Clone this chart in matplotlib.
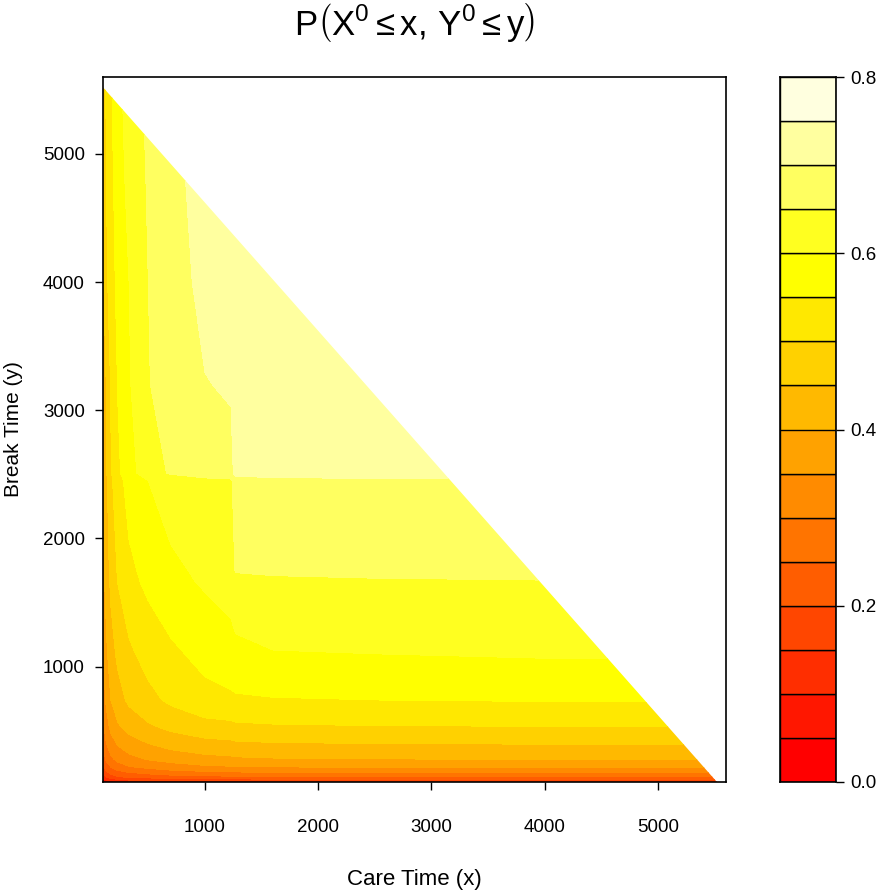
import colorsys
import numpy as np
import matplotlib
matplotlib.use('Agg')
import matplotlib.pyplot as plt
from matplotlib.patches import Polygon

plt.rcParams['font.family'] = ['Liberation Sans', 'DejaVu Sans']
plt.rcParams['mathtext.fontset'] = 'custom'
plt.rcParams['mathtext.rm'] = 'Liberation Sans'
plt.rcParams['mathtext.it'] = 'Liberation Sans'

# grid of care time (x) and break time (y) values
care_time = [100, 130, 170, 230, 330, 500, 700, 1000, 1230, 1270, 1600, 2500, 4000, 5600]
break_time = [100, 115, 140, 175, 215, 280, 400, 540, 740, 1100, 1650, 1750, 2450, 2510,
              3200, 4000, 4800, 5600]
# joint probability, one row per break_time value
prob = [
    [0.03, 0.05, 0.07, 0.085, 0.095, 0.105, 0.11, 0.115, 0.117, 0.118, 0.119, 0.12, 0.12, 0.12],
    [0.08, 0.10, 0.12, 0.135, 0.15, 0.16, 0.168, 0.175, 0.177, 0.178, 0.179, 0.18, 0.181, 0.182],
    [0.13, 0.155, 0.175, 0.195, 0.21, 0.22, 0.23, 0.238, 0.241, 0.242, 0.244, 0.245, 0.247, 0.248],
    [0.16, 0.19, 0.215, 0.235, 0.25, 0.265, 0.28, 0.29, 0.294, 0.296, 0.298, 0.30, 0.302, 0.303],
    [0.19, 0.225, 0.25, 0.275, 0.295, 0.31, 0.325, 0.34, 0.344, 0.346, 0.348, 0.35, 0.352, 0.353],
    [0.22, 0.26, 0.29, 0.315, 0.335, 0.355, 0.37, 0.385, 0.39, 0.393, 0.397, 0.40, 0.402, 0.403],
    [0.26, 0.30, 0.33, 0.355, 0.38, 0.40, 0.42, 0.435, 0.44, 0.443, 0.447, 0.45, 0.452, 0.453],
    [0.29, 0.33, 0.365, 0.395, 0.42, 0.445, 0.465, 0.485, 0.49, 0.493, 0.497, 0.50, 0.502, 0.503],
    [0.32, 0.36, 0.40, 0.43, 0.46, 0.485, 0.51, 0.535, 0.54, 0.543, 0.547, 0.55, 0.553, 0.555],
    [0.35, 0.39, 0.43, 0.46, 0.49, 0.52, 0.54, 0.565, 0.585, 0.59, 0.598, 0.60, 0.605, 0.605],
    [0.38, 0.42, 0.46, 0.50, 0.535, 0.56, 0.585, 0.605, 0.615, 0.625, 0.635, 0.64, 0.645, 0.645],
    [0.385, 0.425, 0.465, 0.505, 0.54, 0.565, 0.59, 0.61, 0.62, 0.655, 0.66, 0.665, 0.665, 0.665],
    [0.40, 0.44, 0.49, 0.53, 0.57, 0.60, 0.625, 0.635, 0.64, 0.68, 0.685, 0.69, 0.69, 0.69],
    [0.405, 0.445, 0.495, 0.54, 0.58, 0.63, 0.655, 0.675, 0.685, 0.715, 0.72, 0.725, 0.725, 0.725],
    [0.42, 0.452, 0.505, 0.552, 0.595, 0.648, 0.67, 0.698, 0.705, 0.72, 0.725, 0.73, 0.735, 0.735],
    [0.44, 0.49, 0.525, 0.565, 0.60, 0.65, 0.675, 0.715, 0.72, 0.725, 0.73, 0.74, 0.745, 0.745],
    [0.45, 0.50, 0.535, 0.575, 0.615, 0.655, 0.685, 0.72, 0.725, 0.73, 0.735, 0.745, 0.75, 0.75],
    [0.46, 0.51, 0.545, 0.585, 0.625, 0.66, 0.69, 0.725, 0.73, 0.735, 0.74, 0.75, 0.75, 0.75],
]
# observed region: care + break time never above this
total_max = 5620
levels = np.arange(0, 0.8001, 0.05)
cbar_ticks = [0.0, 0.2, 0.4, 0.6, 0.8]

# R heat.colors(16)
n = len(levels) - 1
j = n // 4
i = n - j
cols = [colorsys.hsv_to_rgb(k / (i - 1) / 6, 1, 1) for k in range(i)]
for s in np.linspace(1 - 1 / (2 * j), 1 / (2 * j), j):
    cols.append(colorsys.hsv_to_rgb(1 / 6, s, 1))

fig = plt.figure(figsize=(8.94, 8.91), dpi=100)
ax = fig.add_axes([103 / 894, 1 - 782 / 891, 623 / 894, 705 / 891])
cax = fig.add_axes([780 / 894, 1 - 782 / 891, 56 / 894, 705 / 891])

xmin, xmax = 100, 5600
ymin, ymax = 100, 5600
cs = ax.contourf(care_time, break_time, np.array(prob), levels=levels,
                 colors=cols, antialiased=False)
tri = Polygon([(xmin, ymin), (xmin, total_max - xmin), (total_max - ymin, ymin)],
              closed=True, transform=ax.transData, facecolor='none', edgecolor='none')
ax.add_patch(tri)
cs.set_clip_path(tri)
ax.set_xlim(xmin, xmax)
ax.set_ylim(ymin, ymax)
ax.set_xticks([1000, 2000, 3000, 4000, 5000])
ax.set_yticks([1000, 2000, 3000, 4000, 5000])
ax.tick_params(labelsize=13.5, length=6, width=1, direction='out')
ax.tick_params(axis='x', pad=21)
ax.tick_params(axis='y', pad=7)
for sp in ax.spines.values():
    sp.set_linewidth(1.2)
ax.set_xlabel('Care Time (x)', fontsize=16)
ax.xaxis.set_label_coords(0.5, -0.124)
ax.set_ylabel('Break Time (y)', fontsize=15)
ax.yaxis.set_label_coords(-0.128, 0.5)
ax.set_title(r'$\mathrm{P}\left(\mathrm{X}^{0}\leq \mathrm{x},\,\mathrm{Y}^{0}\leq \mathrm{y}\right)$',
             fontsize=25, pad=30)

cax.bar(0.5, np.diff(levels), width=1, bottom=levels[:-1], color=cols,
        edgecolor='black', linewidth=1)
cax.set_xlim(0, 1)
cax.set_ylim(0, 0.8)
cax.set_xticks([])
cax.yaxis.tick_right()
cax.set_yticks(cbar_ticks)
cax.set_yticklabels(['%.1f' % t for t in cbar_ticks])
cax.tick_params(labelsize=13.5, length=6, width=1, pad=4)
for sp in cax.spines.values():
    sp.set_linewidth(1.2)

fig.savefig('out.png', dpi=100)
